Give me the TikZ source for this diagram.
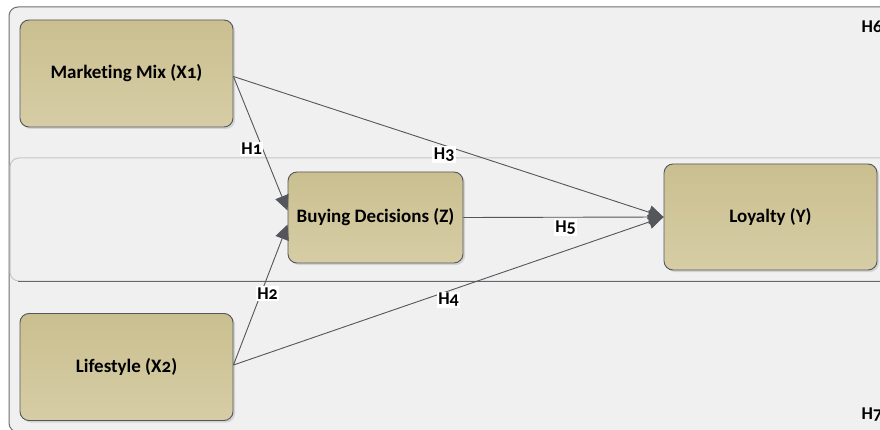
\documentclass[tikz,border=0pt]{standalone}
\usepackage{fontspec}
\setmainfont{Carlito}[Numbers=OldStyle, Ligatures=NoCommon]
\usetikzlibrary{arrows.meta,shadows}

\definecolor{boxtop}{HTML}{CABF8F}
\definecolor{boxbot}{HTML}{D6CDA6}
\definecolor{edgegray}{HTML}{55555C}
\definecolor{panel}{HTML}{F0F0F0}

\tikzset{
  var/.style={draw=edgegray, line width=0.9pt, rounded corners=9pt, top color=boxtop, bottom color=boxbot,
    minimum width=213pt, minimum height=107pt, font=\bfseries\fontsize{19}{21}\selectfont,
    drop shadow={opacity=0.25, shadow xshift=2pt, shadow yshift=-2pt}},
  hyp/.style={fill=white, inner sep=1.5pt, font=\bfseries\fontsize{18}{20}\selectfont},
  path/.style={draw=edgegray, line width=0.9pt, -{Triangle[length=15pt,width=14pt]}}
}

\begin{document}
\begin{tikzpicture}[x=1pt, y=-1pt]
          \useasboundingbox (0,0) rectangle (880,430);
          \clip (0,0) rectangle (880,430);

          % Panels
          \draw[draw=edgegray!85, line width=1pt, fill=panel, rounded corners=9pt] (9,7) rectangle (920,432);
          \draw[draw=gray!45, line width=1pt, rounded corners=9pt] (10,158) rectangle (920,281);
          \draw[draw=edgegray!90, line width=1pt] (18,281) -- (920,281);

          % Nodes for constructs
          \node[var] (X1) at (126.5, 73.5) {Marketing Mix (X1)};
          \node[var] (X2) at (126.5, 367) {Lifestyle (X2)};
          \node[var, minimum width=175pt, minimum height=91pt] (Z) at (375.5, 217.5) {Buying Decisions (Z)};
          \node[var, minimum height=106pt] (Y) at (770.5, 217) {Loyalty (Y)};

          % Directed edges
          \draw[path] ([yshift=-3pt]X1.east) -- node[hyp, pos=0.54, xshift=-11pt] {H1} ([yshift=7pt]Z.west);
          \draw[path] ([yshift=2pt]X2.east) -- node[hyp, pos=0.5, xshift=7pt, yshift=1pt] {H2} ([yshift=-7pt]Z.west);
          \draw[path] ([yshift=-3pt]X1.east) -- node[hyp, pos=0.49, yshift=-9pt] {H3} (Y.west);
          \draw[path] ([yshift=2pt]X2.east) -- node[hyp, pos=0.5, yshift=-9pt] {H4} (Y.west);
          \draw[path] (Z.east) -- node[hyp, pos=0.51, yshift=-10pt] {H5} (Y.west);

          % Group labels
          \node[hyp, fill=none, anchor=west] (H6) at (860, 27) {H6};
          \node[hyp, fill=none, anchor=west] (H7) at (860, 415) {H7};
        \end{tikzpicture}
\end{document}
